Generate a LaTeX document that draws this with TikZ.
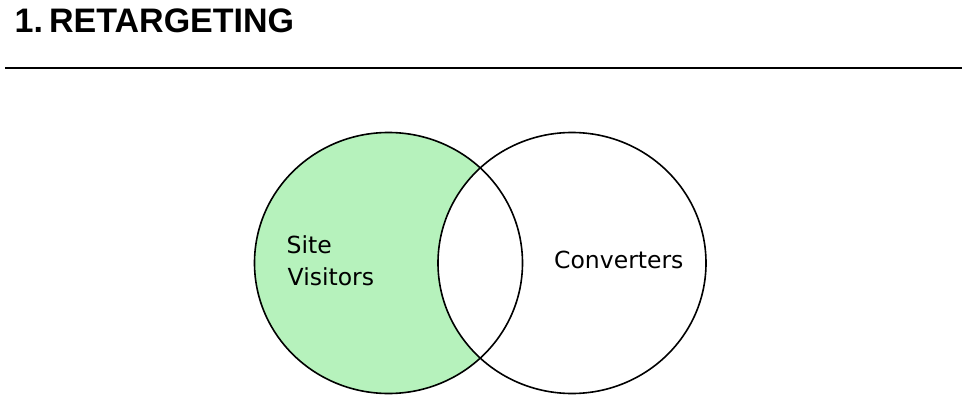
\documentclass[tikz,border=0pt]{standalone}
\usepackage{fontspec}
\setmainfont{DejaVu Sans}
\newfontfamily\titlefont{Liberation Sans}
\definecolor{venngreen}{RGB}{182,242,188}
\begin{document}
\begin{tikzpicture}[x=1pt,y=-1pt,
  setline/.style={draw=black,line width=1.6pt},
  label/.style={anchor=base west,inner sep=0pt,font=\fontsize{23.5}{32}\selectfont},
  titlestyle/.style={anchor=base west,inner sep=0pt,font=\titlefont\bfseries\fontsize{34}{40}\selectfont}]
\useasboundingbox (0,0) rectangle (964,404);
\node[titlestyle] (title) at (14.5,33) {1.\hspace{0.18em}RETARGETING};
\coordinate (ruleL) at (5,68);
\coordinate (ruleR) at (962,68);
\draw[line width=1.5pt] (ruleL) -- (ruleR);
\coordinate (cA) at (388.5,263);
\coordinate (cB) at (572,263);
\fill[venngreen] (cA) ellipse [x radius=134pt, y radius=130.5pt];
\fill[white] (cB) ellipse [x radius=134pt, y radius=130.5pt];
\path[setline] (cA) ellipse [x radius=134pt, y radius=130.5pt];
\path[setline] (cB) ellipse [x radius=134pt, y radius=130.5pt];
\node[label] (site) at (286.5,253) {Site};
\node[label] (visitors) at (287.5,285) {Visitors};
\node[label] (conv) at (554,268) {Converters};
\end{tikzpicture}
\end{document}
